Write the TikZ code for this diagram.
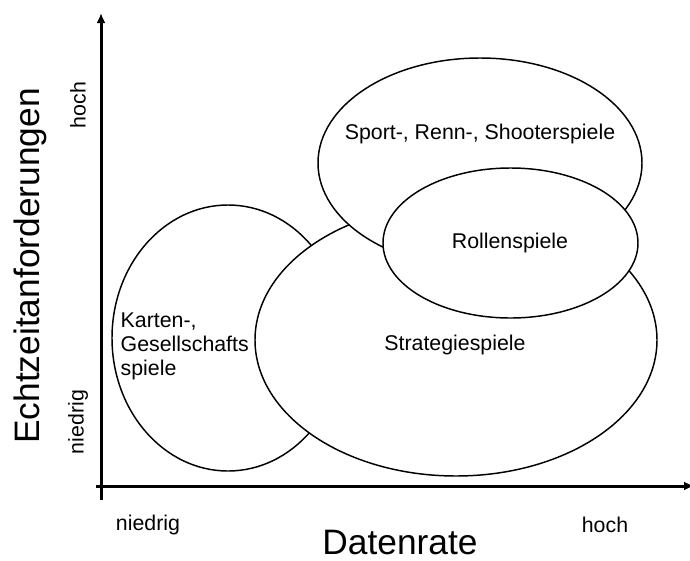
\documentclass[tikz,border=0pt]{standalone}
\usepackage{fontspec}
\setmainfont{Liberation Sans}
\usepackage{tikz}
\usetikzlibrary{positioning}
\usetikzlibrary{arrows.meta}
\usepackage{xcolor}

\begin{document}
\begin{tikzpicture}[x=0.75pt, y=-0.75pt,
		achse/.style={black, line width=2.25pt, -{Latex[length=7.5pt, width=6.75pt]}},
		feld/.style={black, line width=1.1pt, fill=white},
		klein/.style={font=\fontsize{16}{18}\selectfont},
		gross/.style={font=\fontsize{26.5}{30}\selectfont, inner sep=0pt}]
			    		\useasboundingbox (0, 0) rectangle (690, 561);
			    		\coordinate (yfuss) at (101, 500);
			    		\coordinate (yspitze) at (101, 13);
			    		\coordinate (xfuss) at (96, 486);
			    		\coordinate (xspitze) at (694, 486);
			    		\draw[achse] (yfuss)--(yspitze);
			    		\draw[achse] (xfuss)--(xspitze);
			    		% Felder, von unten nach oben
			    		\draw[feld] (228, 338) ellipse [x radius=116, y radius=133];
			    		\draw[feld] (456, 340) ellipse [x radius=201, y radius=136];
			    		\draw[feld] (480, 163) ellipse [x radius=162, y radius=105];
			    		\draw[feld] (510.5, 243) ellipse [x radius=127.5, y radius=75];
			    		\node[klein, align=left, anchor=west] (karten) at (116, 346) {Karten-,\\Gesellschafts\\spiele};
			    		\node[klein] (strategie) at (455, 345) {Strategiespiele};
			    		\node[klein] (sport) at (480, 134) {Sport-, Renn-, Shooterspiele};
			    		\node[klein] (rollen) at (510, 243) {Rollenspiele};
			    		% Achsen beschriften
			    		\node[klein] (xniedrig) at (148, 525) {niedrig};
			    		\node[klein] (xhoch) at (605, 525) {hoch};
			    		\node[gross] (datenrate) at (400, 543) {Datenrate};
			    		\node[klein, rotate=90] (yhoch) at (78, 105) {hoch};
			    		\node[klein, rotate=90] (yniedrig) at (78, 422) {niedrig};
			    		\node[gross, rotate=90] (echtzeit) at (30, 266) {Echtzeitanforderungen};
			    	\end{tikzpicture}
\end{document}
